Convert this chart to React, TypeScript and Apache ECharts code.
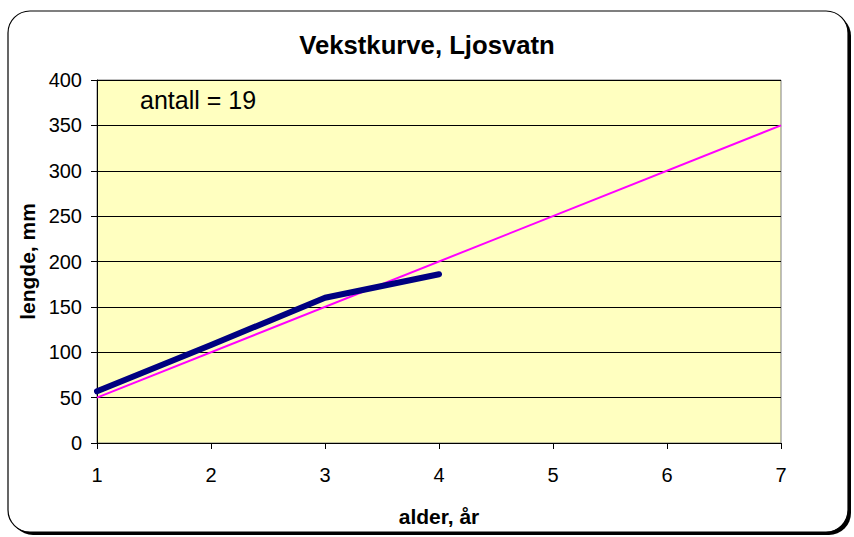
import React, { useEffect, useRef } from "react";
import * as echarts from "echarts";

const ages = [1, 2, 3, 4];
const lengths = [57, 108, 160, 186];
const trendAges = [1, 7];
const trendLengths = [50, 350];
const yTicks = { min: 0, max: 400, step: 50 };
const xTicks = { min: 1, max: 7, step: 1 };
const title = "Vekstkurve, Ljosvatn";
const note = "antall = 19";
const xName = "alder, år";
const yName = "lengde, mm";

export default function App() {
  const ref = useRef<HTMLDivElement>(null);
  useEffect(() => {
    if (!ref.current) return;
    const chart = echarts.init(ref.current, null, { renderer: "svg" });
    const font = "'Liberation Sans', Arial, sans-serif";
    chart.setOption({
      animation: false,
      backgroundColor: "#ffffff",
      textStyle: { fontFamily: font },
      graphic: [
        {
          type: "rect",
          z: -10,
          silent: true,
          shape: { x: 11, y: 14, width: 840, height: 521, r: 22 },
          style: { fill: "#000000" },
        },
        {
          type: "rect",
          z: -9,
          silent: true,
          shape: { x: 8, y: 11, width: 840, height: 521, r: 22 },
          style: { fill: "#ffffff", stroke: "#000000", lineWidth: 1.2 },
        },
        {
          type: "text",
          z: 10,
          x: 140,
          y: 100,
          style: {
            text: note,
            fontSize: 25,
            fontFamily: font,
            fill: "#000000",
            verticalAlign: "middle",
            align: "left",
          },
        },
      ],
      title: {
        text: title,
        left: "center",
        top: 27,
        textStyle: { fontSize: 25.7, fontWeight: "bold", color: "#000000", fontFamily: font },
      },
      grid: {
        left: 97,
        right: 73,
        top: 80,
        bottom: 94,
        show: true,
        backgroundColor: "#FFFFC0",
        borderColor: "#808080",
        borderWidth: 1,
      },
      xAxis: {
        type: "value",
        min: xTicks.min,
        max: xTicks.max,
        interval: xTicks.step,
        name: xName,
        nameLocation: "middle",
        nameGap: 63,
        nameTextStyle: { fontSize: 21, fontWeight: "bold", color: "#000000", fontFamily: font },
        axisLine: { show: true, lineStyle: { color: "#000000", width: 1 } },
        axisTick: { show: true, length: 6, lineStyle: { color: "#000000" } },
        axisLabel: { fontSize: 20, color: "#000000", margin: 22, fontFamily: font },
        splitLine: { show: false },
      },
      yAxis: {
        type: "value",
        min: yTicks.min,
        max: yTicks.max,
        interval: yTicks.step,
        name: yName,
        nameLocation: "middle",
        nameGap: 58,
        nameTextStyle: { fontSize: 21, fontWeight: "bold", color: "#000000", fontFamily: font },
        axisLine: { show: true, lineStyle: { color: "#000000", width: 1 } },
        axisTick: { show: true, length: 6, lineStyle: { color: "#000000" } },
        axisLabel: { fontSize: 20, color: "#000000", margin: 15, fontFamily: font },
        splitLine: { show: true, lineStyle: { color: "#000000", width: 1 } },
      },
      series: [
        {
          type: "line",
          data: trendAges.map((a, i) => [a, trendLengths[i]]),
          showSymbol: false,
          symbol: "none",
          lineStyle: { color: "#FF00FF", width: 2 },
          z: 3,
        },
        {
          type: "line",
          data: ages.map((a, i) => [a, lengths[i]]),
          showSymbol: false,
          symbol: "none",
          lineStyle: { color: "#000080", width: 6, cap: "round", join: "round" },
          z: 4,
        },
      ],
    });
    return () => chart.dispose();
  }, []);
  return (
    <div
      ref={ref}
      style={{ position: "fixed", left: 0, top: 0, width: 854, height: 537 }}
    />
  );
}
